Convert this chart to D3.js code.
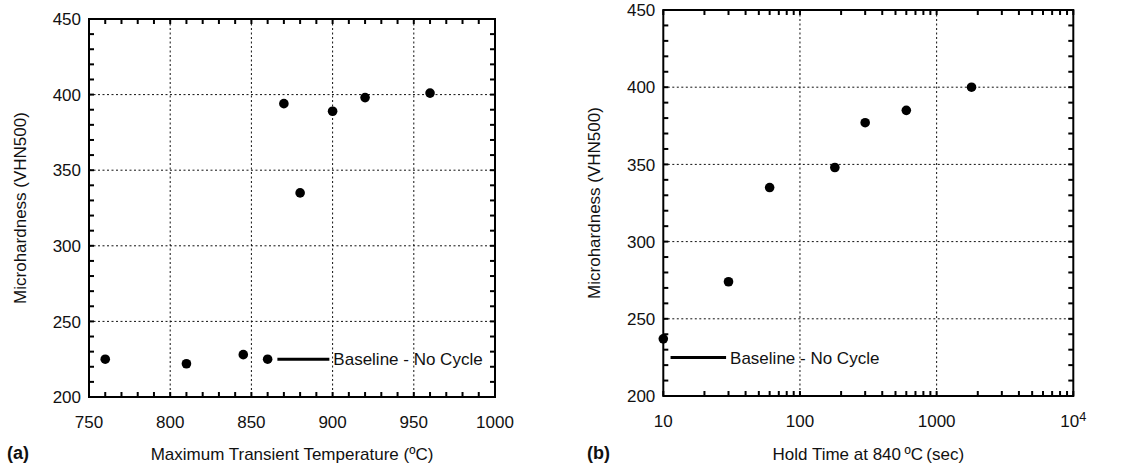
<!DOCTYPE html>
<html><head><meta charset="utf-8">
<script src="https://cdn.jsdelivr.net/npm/d3@7"></script>
<style>body{margin:0;background:#fff} svg text{font-family:"Liberation Sans",Arial,Helvetica,sans-serif;fill:#111}</style>
</head><body><svg id="c" width="1133" height="469"></svg>
<script>
// ---- data (a) ----
const tempA = [760, 810, 845, 860, 870, 880, 900, 920, 960];
const hardA = [225, 222, 228, 225, 394, 335, 389, 398, 401];
const baselineAX = [866, 898];
// ---- data (b) ----
const timeB = [10, 30, 60, 180, 300, 600, 1800];
const hardB = [237, 274, 335, 348, 377, 385, 400];
const baselineBX = [11.3, 28.8];
const baselineValue = 225;
const baselineLabel = "Baseline - No Cycle";
// ---- ticks ----
const yTicks = [200, 250, 300, 350, 400, 450];
const yMinor = d3.range(200, 451, 10);
const xTicksA = [750, 800, 850, 900, 950, 1000];
const xMinorA = d3.range(750, 1001, 10);
const xTicksB = [10, 100, 1000, 10000];
const xTickLabelsB = ["10", "100", "1000", "10^4"];
const xMinorB = [10, 100, 1000].flatMap(d => d3.range(1, 10).map(k => k * d)).concat([10000]);

const svg = d3.select("#c");
const FS = 17;

function panel(o) {
  const g = svg.append("g");
  const x = o.x, y = o.y;
  const [x0, x1] = x.range(), [y1, y0] = y.range();
  // gridlines
  const grid = g.append("g").attr("stroke", "#111").attr("stroke-width", 1).attr("stroke-dasharray", "2,2.5");
  o.xTicks.filter(d => d !== x.domain()[0] && d !== x.domain()[1]).forEach(d => {
    grid.append("line").attr("x1", x(d)).attr("x2", x(d)).attr("y1", y0).attr("y2", y1);
  });
  yTicks.filter(d => d !== 200 && d !== 450).forEach(d => {
    grid.append("line").attr("x1", x0).attr("x2", x1).attr("y1", y(d)).attr("y2", y(d));
  });
  // baseline
  g.append("line").attr("x1", x(o.baseX[0])).attr("x2", x(o.baseX[1]))
    .attr("y1", y(baselineValue)).attr("y2", y(baselineValue))
    .attr("stroke", "#000").attr("stroke-width", 3);
  g.append("text").attr("x", x(o.baseX[1]) + 4).attr("y", y(baselineValue)).attr("dy", "0.36em")
    .attr("font-size", FS).text(baselineLabel);
  // points
  g.append("g").selectAll("circle").data(o.xs.map((d, i) => [d, o.ys[i]])).join("circle")
    .attr("cx", d => x(d[0])).attr("cy", d => y(d[1])).attr("r", 4.8).attr("fill", "#000");
  // frame
  g.append("rect").attr("x", x0).attr("y", y0).attr("width", x1 - x0).attr("height", y1 - y0)
    .attr("fill", "none").attr("stroke", "#000").attr("stroke-width", 2);
  // ticks
  const tk = g.append("g").attr("stroke", "#000").attr("stroke-width", 2);
  const TL = 5;
  o.xMinor.forEach(d => {
    tk.append("line").attr("x1", x(d)).attr("x2", x(d)).attr("y1", y1).attr("y2", y1 - TL);
    tk.append("line").attr("x1", x(d)).attr("x2", x(d)).attr("y1", y0).attr("y2", y0 + TL);
  });
  yMinor.forEach(d => {
    tk.append("line").attr("y1", y(d)).attr("y2", y(d)).attr("x1", x0).attr("x2", x0 + TL);
    tk.append("line").attr("y1", y(d)).attr("y2", y(d)).attr("x1", x1).attr("x2", x1 - TL);
  });
  // y tick labels
  g.append("g").selectAll("text").data(yTicks).join("text")
    .attr("x", x0 - 8).attr("y", d => y(d)).attr("dy", "0.36em").attr("text-anchor", "end")
    .attr("font-size", FS).text(d => d);
  // x tick labels
  const xl = g.append("g").selectAll("text").data(o.xTicks).join("text")
    .attr("x", d => x(d)).attr("y", y1 + 25).attr("dy", "0.36em").attr("text-anchor", "middle")
    .attr("font-size", FS);
  xl.each(function (d, i) {
    const lab = o.xLabels[i];
    const t = d3.select(this);
    if (lab.includes("^")) {
      const [b, e] = lab.split("^");
      t.append("tspan").text(b);
      t.append("tspan").attr("dy", "-0.45em").attr("font-size", FS * 0.75).text(e);
    } else t.text(lab);
  });
  // axis titles
  g.append("text").attr("transform", `translate(${x0 - 69},${(y0 + y1) / 2}) rotate(-90)`)
    .attr("text-anchor", "middle").attr("dy", "0.36em").attr("font-size", FS).text("Microhardness (VHN500)");
  g.append("text").attr("x", (x0 + x1) / 2).attr("y", 454).attr("dy", "0.36em")
    .attr("text-anchor", "middle").attr("font-size", FS).text(o.xTitle);
  g.append("text").attr("x", o.tagX).attr("y", 453).attr("dy", "0.36em")
    .attr("font-size", FS + 1).attr("font-weight", "bold").text(o.tag);
}

panel({
  x: d3.scaleLinear().domain([750, 1000]).range([89, 495]),
  y: d3.scaleLinear().domain([200, 450]).range([397, 19]),
  xs: tempA, ys: hardA, baseX: baselineAX,
  xTicks: xTicksA, xLabels: xTicksA.map(String), xMinor: xMinorA,
  xTitle: "Maximum Transient Temperature (ºC)", tag: "(a)", tagX: 7
});
panel({
  x: d3.scaleLog().domain([10, 10000]).range([663.3, 1073.3]),
  y: d3.scaleLinear().domain([200, 450]).range([396, 10]),
  xs: timeB, ys: hardB, baseX: baselineBX,
  xTicks: xTicksB, xLabels: xTickLabelsB, xMinor: xMinorB,
  xTitle: "Hold Time at 840\u2009ºC\u2009(sec)", tag: "(b)", tagX: 587
});
</script></body></html>
